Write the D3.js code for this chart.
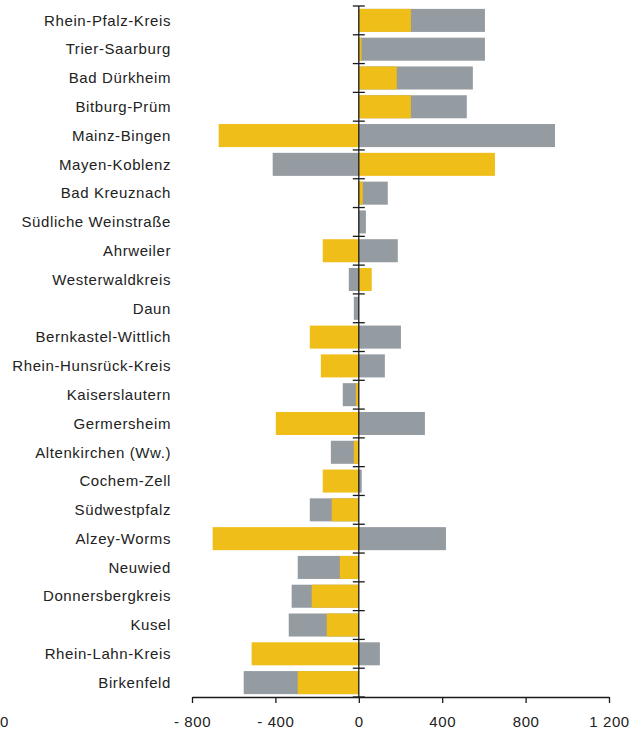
<!DOCTYPE html>
<html>
<head>
<meta charset="utf-8">
<script src="https://cdn.jsdelivr.net/npm/d3@7"></script>
<style>
  body { margin: 0; background: #fff; }
  #chart text { font-family: "Liberation Sans", Arial, Helvetica, sans-serif; font-size: 15px; fill: #222; letter-spacing: 0.6px; }
</style>
</head>
<body>
<div id="chart"></div>
<script>
// districts, top to bottom
var categories = ["Rhein-Pfalz-Kreis", "Trier-Saarburg", "Bad Dürkheim", "Bitburg-Prüm", "Mainz-Bingen",
  "Mayen-Koblenz", "Bad Kreuznach", "Südliche Weinstraße", "Ahrweiler", "Westerwaldkreis", "Daun",
  "Bernkastel-Wittlich", "Rhein-Hunsrück-Kreis", "Kaiserslautern", "Germersheim", "Altenkirchen (Ww.)",
  "Cochem-Zell", "Südwestpfalz", "Alzey-Worms", "Neuwied", "Donnersbergkreis", "Kusel", "Rhein-Lahn-Kreis",
  "Birkenfeld"];

// yellow series (drawn on top)
var yellowValues = [250, 13, 182, 250, -672, 653, 19, 0, -173, 62, 0, -235,
  -182, -14, -398, -24, -173, -130, -701, -91, -226, -154, -514, -293];

// grey series (drawn behind)
var grayValues = [605, 605, 547, 518, 941, -413, 139, 34, 187, -48, -24, 202,
  125, -77, 317, -134, 14, -235, 418, -293, -322, -336, 101, -552];

var xTickValues = [-800, -400, 0, 400, 800, 1200];
var xTickLabels = ["- 800", "- 400", "0", "400", "800", "1 200"];

var yellow = "#f0be19",
    gray = "#949ba1";

drawChart();

function drawChart() {
  var width = 637, height = 731;
  var svg = d3.select("#chart").append("svg")
      .attr("width", width)
      .attr("height", height);

  var x = d3.scaleLinear().domain([-800, 1200]).range([192, 609]);
  var y = d3.scaleBand().domain(categories).range([6, 697])
      .paddingInner(0.2).paddingOuter(0.1);

  var rows = categories.map(function(c, i) {
    return { name: c, yellow: yellowValues[i], gray: grayValues[i] };
  });

  // grey bars first
  svg.append("g").selectAll("rect")
      .data(rows)
    .enter().append("rect")
      .attr("x", function(d) { return x(Math.min(0, d.gray)); })
      .attr("width", function(d) { return Math.abs(x(d.gray) - x(0)); })
      .attr("y", function(d) { return y(d.name); })
      .attr("height", y.bandwidth())
      .style("fill", gray);

  // yellow bars over them
  svg.append("g").selectAll("rect")
      .data(rows)
    .enter().append("rect")
      .attr("x", function(d) { return x(Math.min(0, d.yellow)); })
      .attr("width", function(d) { return Math.abs(x(d.yellow) - x(0)); })
      .attr("y", function(d) { return y(d.name); })
      .attr("height", y.bandwidth())
      .style("fill", yellow);

  // category labels
  svg.append("g").selectAll("text")
      .data(categories)
    .enter().append("text")
      .attr("x", 171)
      .attr("y", function(d) { return y(d) + y.bandwidth() / 2; })
      .attr("dy", "0.35em")
      .attr("text-anchor", "end")
      .text(function(d) { return d; });

  // zero line with ticks between the rows
  var step = y.step();
  var bounds = categories.map(function(c) { return y(c) - step * y.paddingInner() / 2; });
  bounds.push(y(categories[categories.length - 1]) + y.bandwidth() + step * y.paddingInner() / 2);

  var yAxis = svg.append("g");
  yAxis.append("line")
      .attr("x1", x(0)).attr("x2", x(0))
      .attr("y1", bounds[0]).attr("y2", bounds[bounds.length - 1])
      .style("stroke", "#1a1a1a").style("stroke-width", 1.3);
  yAxis.selectAll(".btick")
      .data(bounds)
    .enter().append("line")
      .attr("class", "btick")
      .attr("x1", x(0) - 6).attr("x2", x(0) + 6)
      .attr("y1", function(d) { return d; }).attr("y2", function(d) { return d; })
      .style("stroke", "#1a1a1a").style("stroke-width", 1.3);

  // x axis
  var xAxis = svg.append("g")
      .attr("transform", "translate(0," + 697 + ")")
      .call(d3.axisBottom(x)
        .tickValues(xTickValues)
        .tickFormat(function(d, i) { return xTickLabels[i]; })
        .tickSize(6)
        .tickSizeOuter(0)
        .tickPadding(13));
  xAxis.select(".domain").style("stroke", "#1a1a1a").style("stroke-width", 1.3);
  xAxis.selectAll(".tick line").style("stroke", "#1a1a1a").style("stroke-width", 1.3);
  xAxis.selectAll("text").attr("fill", null).attr("font-family", null).attr("font-size", null);

  // leftover label at the cropped left edge
  svg.append("text")
      .attr("x", 0)
      .attr("y", 727)
      .text("0");
}
</script>
</body>
</html>
